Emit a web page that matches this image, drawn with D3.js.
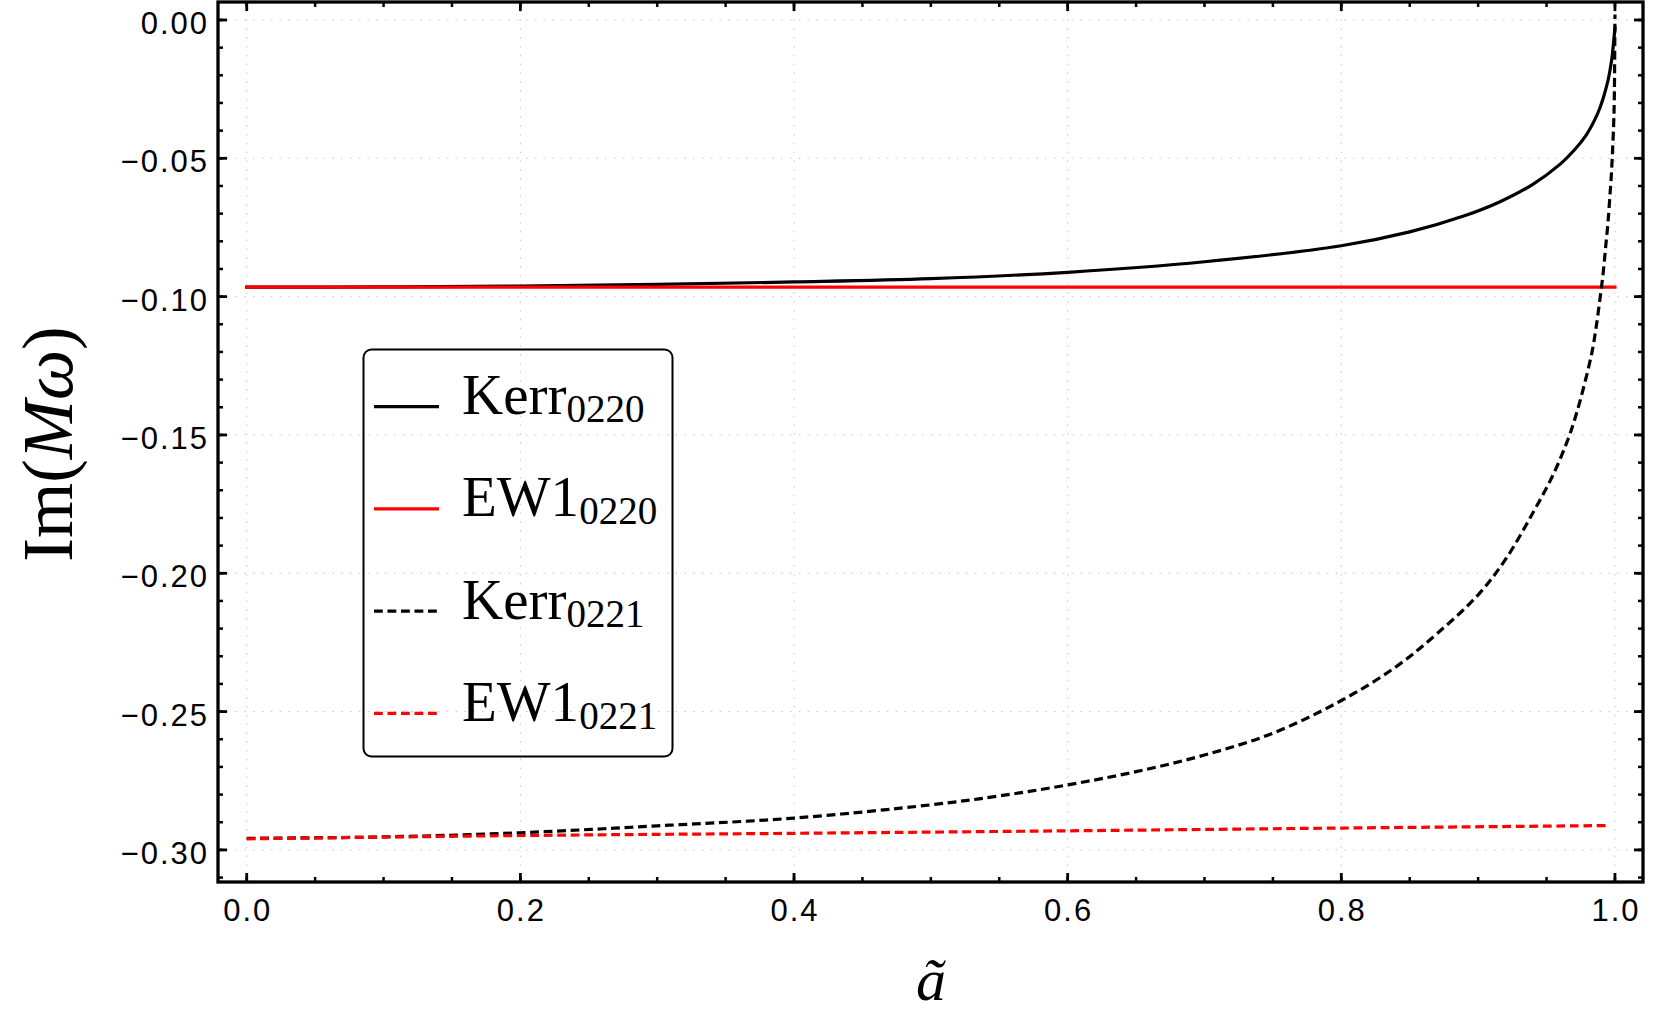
<!DOCTYPE html>
<html>
<head>
<meta charset="utf-8">
<script src="https://cdn.jsdelivr.net/npm/d3@7"></script>
<style>
  body { margin: 0; background: #fff; }
  .tick-label { font-family: "Liberation Sans", Arial, sans-serif; font-size: 31px; letter-spacing: 2px; fill: #000; }
  .serif { font-family: "Liberation Serif", "Times New Roman", serif; fill: #000; }
</style>
</head>
<body>
<svg width="1661" height="1026"></svg>
<script>
// values
var kerr0220_a = [0, 0.1, 0.2, 0.3, 0.4, 0.5, 0.6, 0.7, 0.8, 0.85, 0.89, 0.916, 0.94, 0.96, 0.97, 0.979, 0.985, 0.989, 0.992, 0.995, 0.9965, 0.998, 0.999, 1.0];
var kerr0220_v = [-0.0966, -0.0965, -0.0962, -0.0956, -0.0947, -0.0935, -0.0912, -0.0874, -0.0816, -0.0766, -0.0708, -0.0657, -0.0594, -0.0521, -0.0472, -0.0416, -0.0363, -0.0318, -0.0273, -0.0217, -0.0178, -0.0130, -0.0080, -0.0030];

var ew0220_a = [0, 0.5, 1.0];
var ew0220_v = [-0.0966, -0.0966, -0.0966];

var kerr0221_a = [0, 0.1, 0.2, 0.3, 0.4, 0.5, 0.55, 0.6, 0.65, 0.7, 0.75, 0.8, 0.84, 0.87, 0.9, 0.92, 0.94, 0.955, 0.966, 0.97, 0.975, 0.983, 0.986, 0.989, 0.9915, 0.9934, 0.995, 0.9963, 0.9972, 0.998, 0.999, 0.9995, 1.0];
var kerr0221_v = [-0.2958, -0.2953, -0.2938, -0.2913, -0.2885, -0.2837, -0.2805, -0.2765, -0.2717, -0.2657, -0.2578, -0.2460, -0.2338, -0.2218, -0.2078, -0.1950, -0.1782, -0.1642, -0.1512, -0.1453, -0.1368, -0.1206, -0.1119, -0.1010, -0.0909, -0.0810, -0.0727, -0.0636, -0.0574, -0.0499, -0.0383, -0.0290, 0.0020];

var ew0221_a = [0, 0.2, 0.4, 0.6, 0.8, 0.995];
var ew0221_v = [-0.2960, -0.2948, -0.2940, -0.2931, -0.2921, -0.2912];

var xTicks = [0, 0.2, 0.4, 0.6, 0.8, 1.0];
var yTicks = [0, -0.05, -0.10, -0.15, -0.20, -0.25, -0.30];
var xMinor = d3.range(0, 21).map(function(i){ return i * 0.05; });
var yMinor = d3.range(0, 32).map(function(i){ return -i * 0.01; });

var legendNames = ['Kerr', 'EW1', 'Kerr', 'EW1'];
var legendSubs = ['0220', '0220', '0221', '0221'];

function main() {
	var svg = d3.select('svg');
	var left = 218, right = 1643, top = 2, bottom = 882;

	var x = d3.scaleLinear().domain([-0.021, 1.0205]).range([left, right]);
	var y = d3.scaleLinear().domain([-0.3116, 0.0065]).range([bottom, top]);

	var series = [
		{a: kerr0220_a, v: kerr0220_v, color: '#000', dash: null},
		{a: ew0220_a, v: ew0220_v, color: '#ff0000', dash: null},
		{a: kerr0221_a, v: kerr0221_v, color: '#000', dash: '8.8,4.7'},
		{a: ew0221_a, v: ew0221_v, color: '#ff0000', dash: '8.8,4.7'}
	];

	// grid
	var grid = svg.append('g');
	grid.selectAll('.gx').data(xTicks).enter().append('line')
		.attr('x1', function(d){ return x(d); }).attr('x2', function(d){ return x(d); })
		.attr('y1', top).attr('y2', bottom)
		.attr('stroke', '#c4c4c4').attr('stroke-width', 1).attr('stroke-dasharray', '1.5,7.3');
	grid.selectAll('.gy').data(yTicks).enter().append('line')
		.attr('y1', function(d){ return y(d); }).attr('y2', function(d){ return y(d); })
		.attr('x1', left).attr('x2', right)
		.attr('stroke', '#c4c4c4').attr('stroke-width', 1).attr('stroke-dasharray', '1.5,7.3');

	var line = d3.line()
		.x(function(d){ return x(d[0]); })
		.y(function(d){ return y(d[1]); })
		.curve(d3.curveCatmullRom.alpha(0.5));

	svg.append('defs').append('clipPath').attr('id', 'clip')
		.append('rect').attr('x', left).attr('y', top).attr('width', right - left).attr('height', bottom - top);

	var plot = svg.append('g').attr('clip-path', 'url(#clip)');
	series.forEach(function(s){
		var pts = s.a.map(function(a, i){ return [a, s.v[i]]; });
		plot.append('path')
			.attr('d', line(pts))
			.attr('fill', 'none')
			.attr('stroke', s.color)
			.attr('stroke-width', 3.2)
			.attr('stroke-linecap', s.dash ? 'butt' : 'square')
			.attr('stroke-dasharray', s.dash);
	});

	// axes on all four sides, ticks pointing inwards
	var axes = svg.append('g');
	function tickX(vals, len, w) {
		axes.selectAll(null).data(vals).enter().append('line')
			.attr('x1', function(d){ return x(d); }).attr('x2', function(d){ return x(d); })
			.attr('y1', bottom).attr('y2', bottom - len)
			.attr('stroke', '#000').attr('stroke-width', w);
		axes.selectAll(null).data(vals).enter().append('line')
			.attr('x1', function(d){ return x(d); }).attr('x2', function(d){ return x(d); })
			.attr('y1', top).attr('y2', top + len)
			.attr('stroke', '#000').attr('stroke-width', w);
	}
	function tickY(vals, len, w) {
		axes.selectAll(null).data(vals).enter().append('line')
			.attr('y1', function(d){ return y(d); }).attr('y2', function(d){ return y(d); })
			.attr('x1', left).attr('x2', left + len)
			.attr('stroke', '#000').attr('stroke-width', w);
		axes.selectAll(null).data(vals).enter().append('line')
			.attr('y1', function(d){ return y(d); }).attr('y2', function(d){ return y(d); })
			.attr('x1', right).attr('x2', right - len)
			.attr('stroke', '#000').attr('stroke-width', w);
	}
	tickX(xMinor, 5, 2.5);
	tickX(xTicks, 9, 2.8);
	tickY(yMinor, 5, 2.5);
	tickY(yTicks, 9, 2.8);

	axes.append('rect')
		.attr('x', left).attr('y', top)
		.attr('width', right - left).attr('height', bottom - top)
		.attr('fill', 'none').attr('stroke', '#000').attr('stroke-width', 3.3);

	var fx = d3.format('.1f'), fy = d3.format('.2f');
	axes.selectAll('.xl').data(xTicks).enter().append('text')
		.attr('class', 'tick-label')
		.attr('x', function(d){ return x(d) + 1; })
		.attr('y', 921)
		.attr('text-anchor', 'middle')
		.text(function(d){ return fx(d); });
	axes.selectAll('.yl').data(yTicks).enter().append('text')
		.attr('class', 'tick-label')
		.attr('x', 209)
		.attr('y', function(d){ return y(d) + 14; })
		.attr('text-anchor', 'end')
		.text(function(d){ return fy(d); });

	// axis titles
	svg.append('text')
		.attr('class', 'serif')
		.attr('x', 931).attr('y', 1000)
		.attr('text-anchor', 'middle')
		.attr('font-size', 60)
		.attr('font-style', 'italic')
		.text('ã');

	var yl = svg.append('text')
		.attr('class', 'serif')
		.attr('transform', 'translate(72,444) rotate(-90)')
		.attr('text-anchor', 'middle')
		.attr('font-size', 71);
	yl.append('tspan').text('Im(');
	yl.append('tspan').attr('font-style', 'italic').text('Mω');
	yl.append('tspan').text(')');

	// legend
	var lg = svg.append('g');
	lg.append('rect')
		.attr('x', 363.5).attr('y', 349.5).attr('width', 309).attr('height', 407)
		.attr('rx', 8).attr('ry', 8)
		.attr('fill', 'none').attr('stroke', '#000').attr('stroke-width', 2);
	series.forEach(function(s, i){
		var ry = 406.7 + i * 102.2;
		lg.append('line')
			.attr('x1', 374).attr('x2', s.dash ? 437 : 439)
			.attr('y1', ry).attr('y2', ry)
			.attr('stroke', s.color).attr('stroke-width', 3.2)
			.attr('stroke-dasharray', s.dash);
		var t = lg.append('text')
			.attr('class', 'serif')
			.attr('x', 462).attr('y', ry + 7.5)
			.attr('font-size', 57);
		t.append('tspan').text(legendNames[i]);
		t.append('tspan').attr('font-size', 39).attr('dy', 8).text(legendSubs[i]);
	});
}
main();
</script>
</body>
</html>
